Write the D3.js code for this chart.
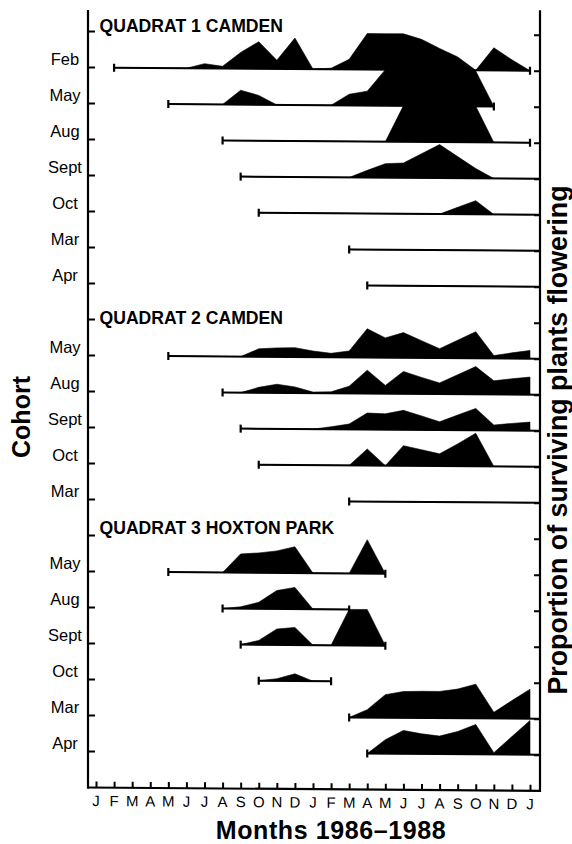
<!DOCTYPE html>
<html><head><meta charset="utf-8">
<script src="https://cdn.jsdelivr.net/npm/d3@7"></script>
<style>
html,body{margin:0;padding:0;background:#fff;}
svg{display:block;}
text{font-family:"Liberation Sans",Arial,Helvetica,sans-serif;fill:#000;}
</style>
</head><body>
<svg id="chart" width="572" height="844"></svg>
<script>
// ---------- DATA ----------
// month tick labels, Jan 1986 (index 0) .. Jan 1988 (index 24)
const months = ["J","F","M","A","M","J","J","A","S","O","N","D","J","F","M","A","M","J","J","A","S","O","N","D","J"];
const quadratTitles = ["QUADRAT 1 CAMDEN","QUADRAT 2 CAMDEN","QUADRAT 3 HOXTON PARK"];

// Quadrat 1 Camden
const q1Cohorts = ["Feb","May","Aug","Sept","Oct","Mar","Apr"];
const q1Start   = [1, 4, 7, 8, 9, 14, 15];              // first month of cohort
const q1End     = [24, 22, 24, null, null, null, null]; // last month (null = still alive)
// proportion of surviving plants flowering, monthly from the cohort start month
const q1Feb  = [0,0,0,0,0,0.13,0.06,0.45,0.75,0.24,0.86,0,0.03,0.28,1,1,1,0.85,0.6,0.37,0,0.63,0.3,0];
const q1May  = [0,0,0,0,0.4,0.26,0,0,0,0,0.31,0.4,1,1,1,1,1,0.98,0];
const q1Aug  = [0,0,0,0,0,0,0,0,0,0,1,1,1,1,1,0,0,0];
const q1Sept = [0,0,0,0,0,0,0,0.2,0.39,0.41,0.67,0.93,0.6,0.27,0,0,0];
const q1Oct  = [0,0,0,0,0,0,0,0,0,0,0,0.19,0.38,0,0,0];
const q1Mar  = [0,0,0,0,0,0,0,0,0,0,0];
const q1Apr  = [0,0,0,0,0,0,0,0,0,0];

// Quadrat 2 Camden
const q2Cohorts = ["May","Aug","Sept","Oct","Mar"];
const q2Start   = [4, 7, 8, 9, 14];
const q2End     = [null, null, null, null, null];
const q2May  = [0,0,0,0,0,0.22,0.25,0.26,0.17,0.11,0.18,0.8,0.55,0.7,0.48,0.26,0.5,0.74,0.08,0.16,0.23];
const q2Aug  = [0,0,0.15,0.24,0.17,0.03,0.04,0.2,0.65,0.23,0.62,0.46,0.31,0.54,0.77,0.38,0.44,0.49];
const q2Sept = [0,0,0,0,0,0.07,0.15,0.46,0.44,0.54,0.39,0.23,0.42,0.61,0.15,0.2,0.24];
const q2Oct  = [0,0,0,0,0,0,0.46,0,0.56,0.45,0.34,0.62,0.92,0,0,0];
const q2Mar  = [0,0,0,0,0,0,0,0,0,0,0];

// Quadrat 3 Hoxton Park
const q3Cohorts = ["May","Aug","Sept","Oct","Mar","Apr"];
const q3Start   = [4, 7, 8, 9, 14, 15];
const q3End     = [16, 14, 16, 13, null, null];
const q3May  = [0,0,0,0,0.52,0.55,0.61,0.73,0,0,0,0.94,0];
const q3Aug  = [0,0.05,0.18,0.51,0.6,0,0,0];
const q3Sept = [0,0.12,0.44,0.49,0,0,1,1,0];
const q3Oct  = [0,0.06,0.2,0,0];
const q3Mar  = [0,0.22,0.64,0.73,0.74,0.74,0.81,0.95,0.17,0.5,0.82];
const q3Apr  = [0,0.39,0.65,0.56,0.5,0.63,0.83,0.05,0.5,0.95];

// ---------- BUILD ROWS ----------
const quadrats = [
  {title: quadratTitles[0], cohorts: q1Cohorts, start: q1Start, end: q1End,
   values: [q1Feb,q1May,q1Aug,q1Sept,q1Oct,q1Mar,q1Apr]},
  {title: quadratTitles[1], cohorts: q2Cohorts, start: q2Start, end: q2End,
   values: [q2May,q2Aug,q2Sept,q2Oct,q2Mar]},
  {title: quadratTitles[2], cohorts: q3Cohorts, start: q3Start, end: q3End,
   values: [q3May,q3Aug,q3Sept,q3Oct,q3Mar,q3Apr]}
];
const headers = [], rows = [];
let slot = 0;
quadrats.forEach((q, qi) => {
  headers.push({title: q.title, slot: slot, qi: qi});
  slot++;
  q.cohorts.forEach((c, i) => {
    rows.push({label: c, slot: slot, start: q.start[i], end: q.end[i],
      pts: q.values[i].map((v, k) => ({m: q.start[i] + k, v: v}))});
    slot++;
  });
});
const nSlots = slot; // 21

// ---------- LAYOUT ----------
const svg = d3.select("#chart");
const axL = 88, axR = 540, axTop = 10, axBot = 787.5;
const x = d3.scaleLinear().domain([0, 24]).range([96, 530]);
const y = d3.scaleLinear().domain([0, 21]).range([31, 787]);
const hgt = d3.scaleLinear().domain([0, 1]).range([0, 36]);
const base = s => y(s) + 0.5;

// slight skew like the scanned original
const g = svg.append("g")
  .attr("transform", `translate(${axL},0) skewY(0.42) translate(${-axL},0)`);

// areas + survival lines
const area = d3.area().curve(d3.curveLinear);
rows.forEach(r => {
  const yb = base(r.slot);
  area.x(d => x(d.m)).y0(yb).y1(d => yb - hgt(d.v));
  g.append("path").attr("d", area(r.pts)).attr("fill", "#000").attr("stroke", "#000").attr("stroke-width", 0.6);
  const xEnd = r.end == null ? axR : x(r.end);
  g.append("line").attr("x1", x(r.start)).attr("x2", xEnd).attr("y1", yb).attr("y2", yb)
    .attr("stroke", "#000").attr("stroke-width", 2);
  const caps = [r.start].concat(r.end == null ? [] : [r.end]);
  caps.forEach(m => {
    g.append("line").attr("x1", x(m)).attr("x2", x(m)).attr("y1", yb - 4).attr("y2", yb + 4)
      .attr("stroke", "#000").attr("stroke-width", 2.2);
  });
});

// left axis (ticks point inward)
const leftAx = g.append("g").attr("transform", `translate(${axL},0)`)
  .call(d3.axisRight(y).tickValues(d3.range(nSlots)).tickSize(7).tickSizeOuter(0).tickFormat(""));
leftAx.select(".domain").remove();
leftAx.selectAll("line").attr("stroke", "#000").attr("stroke-width", 2);

// right axis
const yR = d3.scaleLinear().domain([0, 21]).range([31.5, 787.5]);
const rightAx = g.append("g").attr("transform", `translate(${axR},0)`)
  .call(d3.axisLeft(yR).tickValues(d3.range(nSlots)).tickSize(6).tickSizeOuter(0).tickFormat(""));
rightAx.select(".domain").remove();
rightAx.selectAll("line").attr("stroke", "#000").attr("stroke-width", 2);

// bottom axis with inward ticks
const botAx = g.append("g").attr("transform", `translate(0,${axBot})`)
  .call(d3.axisTop(x).tickValues(d3.range(25)).tickSize(6).tickSizeOuter(0).tickFormat(""));
botAx.select(".domain").remove();
botAx.selectAll("line").attr("stroke", "#000").attr("stroke-width", 2);

// frame lines
g.append("line").attr("x1", axL).attr("x2", axL).attr("y1", axTop).attr("y2", axBot + 1)
  .attr("stroke", "#000").attr("stroke-width", 2.2);
g.append("line").attr("x1", axR).attr("x2", axR).attr("y1", axTop - 3).attr("y2", axBot + 1)
  .attr("stroke", "#000").attr("stroke-width", 2.2);
g.append("line").attr("x1", axL - 1).attr("x2", axR + 1).attr("y1", axBot).attr("y2", axBot)
  .attr("stroke", "#000").attr("stroke-width", 2.2);

// month labels
g.append("g").selectAll("text").data(months).join("text")
  .attr("x", (d, i) => x(i)).attr("y", 806)
  .attr("text-anchor", "middle").attr("font-size", 15).text(d => d);

// cohort labels
svg.append("g").selectAll("text").data(rows).join("text")
  .attr("x", 65).attr("y", d => y(d.slot) - 2)
  .attr("text-anchor", "middle").attr("font-size", 16.5).text(d => d.label);

// quadrat titles
const headerDy = [1, 5, -1];
svg.append("g").selectAll("text").data(headers).join("text")
  .attr("x", 99.5).attr("y", d => y(d.slot) + headerDy[d.qi])
  .attr("font-size", 17.6).attr("font-weight", "bold").text(d => d.title);

// axis titles
svg.append("text").attr("x", 331).attr("y", 839).attr("text-anchor", "middle")
  .attr("font-size", 25).attr("font-weight", "bold").attr("letter-spacing", 0.6)
  .text("Months 1986–1988");
svg.append("text").attr("transform", "translate(30,417) rotate(-90)").attr("text-anchor", "middle")
  .attr("font-size", 25).attr("font-weight", "bold").text("Cohort");
svg.append("text").attr("transform", "translate(567,440) rotate(-90)").attr("text-anchor", "middle")
  .attr("font-size", 26.8).attr("font-weight", "bold").text("Proportion of surviving plants flowering");
</script>
</body></html>
